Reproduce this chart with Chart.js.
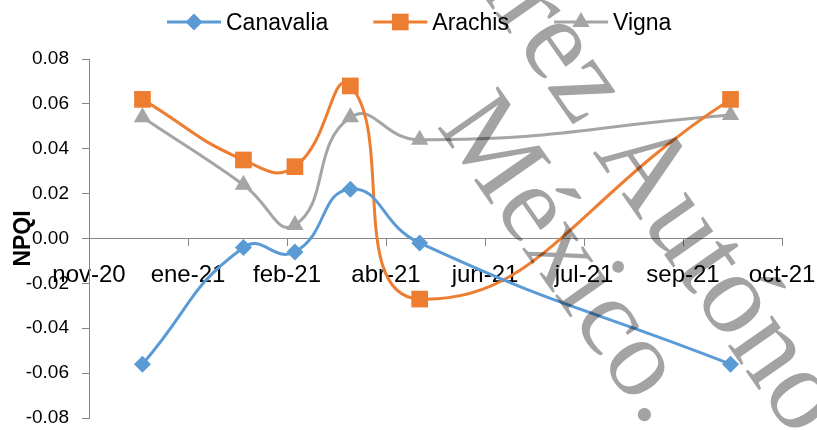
<!DOCTYPE html>
<html>
<head>
<meta charset="utf-8">
<title>NPQI</title>
<script src="https://cdn.jsdelivr.net/npm/chart.js@4/dist/chart.umd.min.js"></script>
<style>
  html, body { margin: 0; padding: 0; background: #ffffff; }
  #wrap { width: 817px; height: 430px; position: relative; }
</style>
</head>
<body>
<div id="wrap"><canvas id="chart" width="817" height="430"></canvas></div>
<script>
// Sampling dates and NPQI values per species
const sampleDates = ['2020-12-12', '2021-02-01', '2021-02-27', '2021-03-27', '2021-05-01', '2021-10-05'];
const canavalia = [-0.056, -0.004, -0.006, 0.022, -0.002, -0.056];
const arachis   = [0.062, 0.035, 0.032, 0.068, -0.027, 0.062];
const vigna     = [0.054, 0.024, 0.006, 0.054, 0.044, 0.055];

// Date axis: starts on axisStart, one labelled tick every tickStepDays days
const axisStart = '2020-11-15';
const tickStepDays = 50;
const xTickLabels = ['nov-20', 'ene-21', 'feb-21', 'abr-21', 'jun-21', 'jul-21', 'sep-21', 'oct-21'];
const yMin = -0.08, yMax = 0.08, yStep = 0.02;

const DAY = 86400000;
const dayIndex = d => Math.round((Date.parse(d) - Date.parse(axisStart)) / DAY);
const toPoints = vals => sampleDates.map((d, i) => ({ x: dayIndex(d), y: vals[i] }));

const AXIS_GREY = '#868686';
const SANS = '"Liberation Sans", Arial, sans-serif';

const datasets = [
  { label: 'Canavalia', data: toPoints(canavalia), borderColor: '#5B9BD5',
    pointStyle: 'rectRot', pointRadius: 8.5 },
  { label: 'Arachis', data: toPoints(arachis), borderColor: '#ED7D31',
    pointStyle: 'rect', pointRadius: 11.8 },
  { label: 'Vigna', data: toPoints(vigna), borderColor: '#A5A5A5',
    pointStyle: 'triangle', pointRadius: 10 }
].map(ds => Object.assign(ds, {
  backgroundColor: ds.borderColor,
  borderWidth: 3,
  tension: 0.5,
  pointBorderWidth: 0,
  pointBorderColor: ds.borderColor,
  pointBackgroundColor: ds.borderColor,
  fill: false
}));

// Marker shapes for the legend swatches
function drawMarker(ctx, style, x, y, r, color) {
  ctx.save();
  ctx.fillStyle = color;
  ctx.beginPath();
  if (style === 'rectRot') {
    ctx.moveTo(x, y - r); ctx.lineTo(x + r, y); ctx.lineTo(x, y + r); ctx.lineTo(x - r, y);
  } else if (style === 'rect') {
    const h = r * Math.SQRT1_2;
    ctx.rect(x - h, y - h, 2 * h, 2 * h);
  } else {
    const s = Math.sin(Math.PI / 3) * r;
    ctx.moveTo(x, y - r); ctx.lineTo(x + s, y + r / 2); ctx.lineTo(x - s, y + r / 2);
  }
  ctx.closePath();
  ctx.fill();
  ctx.restore();
}

// Legend row across the top: line swatch with marker, then the series name
const topLegend = {
  id: 'topLegend',
  afterDraw(chart) {
    const ctx = chart.ctx;
    ctx.save();
    ctx.font = '23px ' + SANS;
    ctx.textBaseline = 'alphabetic';
    ctx.textAlign = 'left';
    let x = 167;
    const lineY = 22, textY = 30, swatch = 54;
    chart.data.datasets.forEach(ds => {
      ctx.strokeStyle = ds.borderColor;
      ctx.lineWidth = 3;
      ctx.beginPath();
      ctx.moveTo(x, lineY); ctx.lineTo(x + swatch, lineY);
      ctx.stroke();
      drawMarker(ctx, ds.pointStyle, x + swatch / 2, lineY, ds.pointRadius, ds.borderColor);
      ctx.fillStyle = '#000000';
      ctx.fillText(ds.label, x + swatch + 5, textY);
      x += swatch + 5 + ctx.measureText(ds.label).width + 45;
    });
    ctx.restore();
  }
};

// Institutional watermark laid diagonally over the figure
const watermark = {
  id: 'watermark',
  afterDraw(chart) {
    const ctx = chart.ctx;
    const angle = 55 * Math.PI / 180;
    ctx.save();
    ctx.globalCompositeOperation = 'multiply';
    ctx.fillStyle = '#a3a3a3';
    ctx.textBaseline = 'alphabetic';
    ctx.textAlign = 'left';
    ctx.rotate(angle);
    ctx.font = '117px "Liberation Serif", "Times New Roman", serif';
    const line1 = 'Universidad Juárez Autónoma de Tabasco.';
    const x1 = 357.2 - ctx.measureText('Universidad Juár').width - ctx.measureText('e').width / 2;
    ctx.fillText(line1, x1, -398);
    ctx.font = '112px "Liberation Serif", "Times New Roman", serif';
    const line2 = 'México.';
    const x2 = 402.8 - ctx.measureText('M').width / 2;
    ctx.fillText(line2, x2, -285);
    ctx.restore();
  }
};

// Keep the plot area fixed: no extra room reserved for overhanging tick labels
const noScalePadding = s => {
  s.paddingLeft = 0; s.paddingRight = 0; s.paddingTop = 0; s.paddingBottom = 0;
};

new Chart(document.getElementById('chart'), {
  type: 'line',
  data: { datasets },
  options: {
    responsive: false,
    animation: false,
    devicePixelRatio: 1,
    layout: { padding: { left: 0, top: 59, right: 35, bottom: 12 }, autoPadding: false },
    plugins: { legend: { display: false }, tooltip: { enabled: false } },
    scales: {
      x: {
        type: 'linear',
        position: { y: 0 },
        min: 0,
        max: tickStepDays * (xTickLabels.length - 1),
        afterFit: s => { s.height = 0; noScalePadding(s); },
        afterBuildTicks: s => {
          s.ticks = xTickLabels.map((_, i) => ({ value: i * tickStepDays }));
        },
        ticks: {
          autoSkip: false,
          maxRotation: 0,
          padding: 15,
          color: '#000000',
          font: { family: SANS, size: 24 },
          callback: (v, i) => xTickLabels[i]
        },
        grid: { drawOnChartArea: false, drawTicks: true, tickLength: 7, color: AXIS_GREY, lineWidth: 1 },
        border: { color: AXIS_GREY, width: 1 }
      },
      y: {
        min: yMin,
        max: yMax,
        afterFit: s => { s.width = 89; noScalePadding(s); },
        ticks: {
          stepSize: yStep,
          padding: 13,
          color: '#000000',
          font: { family: SANS, size: 19 },
          callback: v => (Math.abs(v) < 1e-9 ? 0 : v).toFixed(2)
        },
        grid: { drawOnChartArea: false, drawTicks: true, tickLength: 7, color: AXIS_GREY, lineWidth: 1 },
        border: { color: AXIS_GREY, width: 1 },
        title: {
          display: true,
          text: 'NPQI',
          color: '#000000',
          padding: { top: 10, bottom: 0 },
          font: { family: SANS, size: 23, weight: 'bold' }
        }
      }
    }
  },
  plugins: [topLegend, watermark]
});
</script>
</body>
</html>
